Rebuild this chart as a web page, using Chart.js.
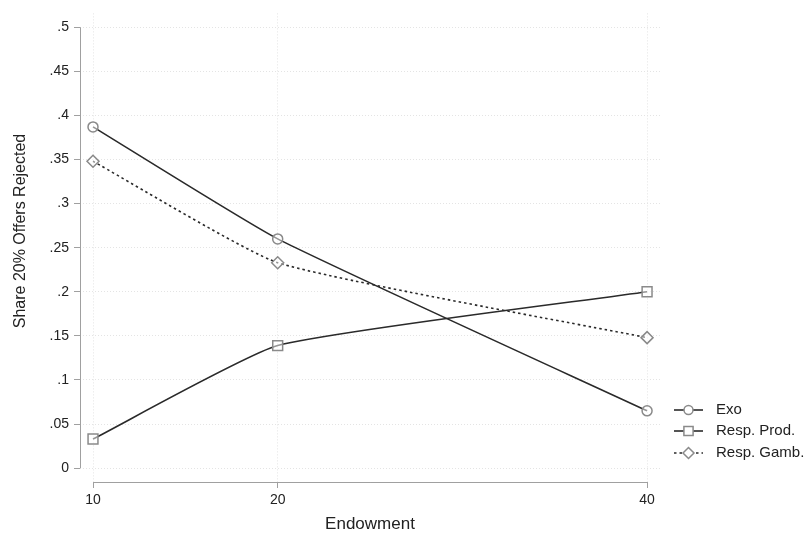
<!DOCTYPE html>
<html>
<head>
<meta charset="utf-8">
<script src="https://cdn.jsdelivr.net/npm/chart.js@4.4.1/dist/chart.umd.min.js"></script>
<style>
  html, body { margin: 0; padding: 0; background: #fff; }
  #wrap { width: 812px; height: 539px; }
</style>
</head>
<body>
<div id="wrap"><canvas id="canvas"></canvas></div>
<script>
(function() {

    // share of 20% offers rejected, by endowment
    const endowments = [10, 20, 40];
    const exo = [0.387, 0.260, 0.065];
    const respProd = [0.033, 0.139, 0.200];
    const respGamb = [0.348, 0.233, 0.148];
    const yTicks = [0, 0.05, 0.1, 0.15, 0.2, 0.25, 0.3, 0.35, 0.4, 0.45, 0.5];
    const seriesNames = ['Exo', 'Resp. Prod.', 'Resp. Gamb.'];
    const yTitle = 'Share 20% Offers Rejected';
    const xTitle = 'Endowment';

    const lineColor = '#2a2a2a';
    const markColor = '#8a8a8a';
    const axisColor = '#a0a0a0';
    const textColor = '#222';
    const font = '"Liberation Sans", Arial, sans-serif';

    const styles = [
        { pointStyle: 'circle', radius: 5, dash: [] },
        { pointStyle: 'rect', radius: 7, dash: [] },
        { pointStyle: 'rectRot', radius: 6, dash: [2.5, 3] }
    ];

    function points(ys) {
        return endowments.map((x, i) => ({ x: x, y: ys[i] }));
    }

    function dataset(i, ys) {
        return {
            label: seriesNames[i],
            data: points(ys),
            borderColor: lineColor,
            borderWidth: 1.6,
            borderDash: styles[i].dash,
            tension: 0.15,
            pointStyle: styles[i].pointStyle,
            pointRadius: styles[i].radius,
            pointBorderColor: markColor,
            pointBackgroundColor: 'rgba(255,255,255,0.5)',
            pointBorderWidth: 1.5
        };
    }

    function yLabel(v) {
        if (v === 0) return '0';
        return String(+v.toFixed(2)).replace(/^0/, '');
    }

    // axis lines only span the tick range, Stata style; y title drawn by hand
    const axisLines = {
        id: 'axisLines',
        afterDraw(chart) {
            const ctx = chart.ctx;
            const xs = chart.scales.x, ys = chart.scales.y;
            const area = chart.chartArea;
            ctx.save();
            ctx.strokeStyle = axisColor;
            ctx.lineWidth = 1;
            ctx.beginPath();
            ctx.moveTo(area.left + 0.5, ys.getPixelForValue(0));
            ctx.lineTo(area.left + 0.5, ys.getPixelForValue(0.5));
            ctx.moveTo(xs.getPixelForValue(10), area.bottom + 0.5);
            ctx.lineTo(xs.getPixelForValue(40), area.bottom + 0.5);
            ctx.stroke();

            ctx.translate(21, 231);
            ctx.rotate(-Math.PI / 2);
            ctx.font = '16px ' + font;
            ctx.fillStyle = textColor;
            ctx.textAlign = 'center';
            ctx.textBaseline = 'middle';
            ctx.fillText(yTitle, 0, 0);
            ctx.restore();
        }
    };

    // legend: line sample with marker, then label
    const sideLegend = {
        id: 'sideLegend',
        afterDraw(chart) {
            const ctx = chart.ctx;
            const rows = [410, 431, 453];
            ctx.save();
            ctx.font = '15px ' + font;
            ctx.textBaseline = 'middle';
            chart.data.datasets.forEach((ds, i) => {
                const y = rows[i];
                ctx.strokeStyle = lineColor;
                ctx.lineWidth = 1.6;
                ctx.setLineDash(styles[i].dash);
                ctx.beginPath();
                ctx.moveTo(674, y);
                ctx.lineTo(703, y);
                ctx.stroke();
                ctx.setLineDash([]);
                ctx.strokeStyle = markColor;
                ctx.fillStyle = '#fff';
                ctx.lineWidth = 1.5;
                Chart.helpers.drawPoint(ctx, {
                    pointStyle: styles[i].pointStyle,
                    radius: styles[i].radius - 0.5,
                    rotation: 0,
                    borderWidth: 1.5
                }, 688.5, y);
                ctx.fillStyle = textColor;
                ctx.fillText(ds.label, 716, y);
            });
            ctx.restore();
        }
    };

    const ctx = document.querySelector('#canvas').getContext('2d');
    new Chart(ctx, {
        type: 'line',
        data: {
            datasets: [
                dataset(0, exo),
                dataset(1, respProd),
                dataset(2, respGamb)
            ]
        },
        options: {
            responsive: true,
            maintainAspectRatio: false,
            animation: false,
            layout: { padding: { top: 8, right: 152, left: 0, bottom: 0 } },
            plugins: {
                legend: { display: false },
                tooltip: { enabled: false }
            },
            scales: {
                x: {
                    type: 'linear',
                    min: 9.296,
                    max: 40.70,
                    afterBuildTicks(scale) {
                        scale.ticks = endowments.map(v => ({ value: v }));
                    },
                    afterFit(scale) { scale.height = 57; },
                    border: { display: false, dash: [1, 2] },
                    grid: {
                        color: '#e4e4e4',
                        tickColor: axisColor,
                        tickLength: 6,
                        tickBorderDash: []
                    },
                    ticks: {
                        color: textColor,
                        padding: 4,
                        maxRotation: 0,
                        font: { family: font, size: 14 }
                    },
                    title: {
                        display: true,
                        text: xTitle,
                        color: textColor,
                        padding: { top: 4, bottom: 4 },
                        font: { family: font, size: 17 }
                    }
                },
                y: {
                    min: -0.0157,
                    max: 0.5157,
                    afterBuildTicks(scale) {
                        scale.ticks = yTicks.map(v => ({ value: v }));
                    },
                    afterFit(scale) { scale.width = 80; },
                    border: { display: false, dash: [1, 2] },
                    grid: {
                        color: '#e4e4e4',
                        tickColor: axisColor,
                        tickLength: 6,
                        tickBorderDash: []
                    },
                    ticks: {
                        color: textColor,
                        padding: 5,
                        callback: yLabel,
                        font: { family: font, size: 14 }
                    }
                }
            }
        },
        plugins: [axisLines, sideLegend]
    });

}());
</script>
</body>
</html>
